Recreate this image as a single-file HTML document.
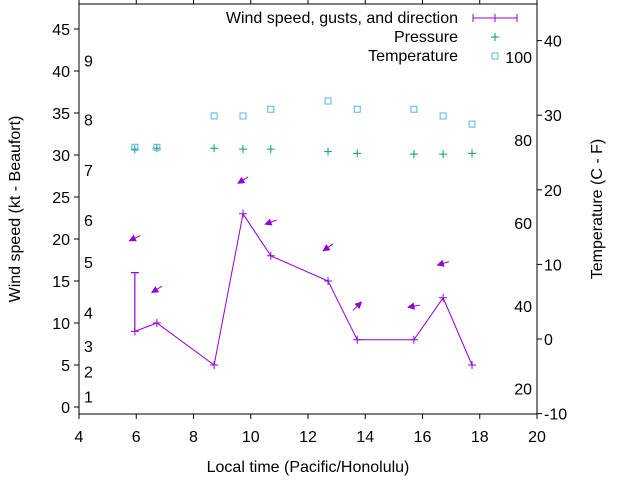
<!DOCTYPE html>
<html><head><meta charset="utf-8"><style>
body{margin:0;background:#fff}
svg text{font-family:"Liberation Sans",Arial,sans-serif;font-size:16px;fill:#000}
</style></head><body>
<svg id="chart" width="640" height="480" viewBox="0 0 640 480" xmlns="http://www.w3.org/2000/svg"></svg>
<script>
const times=[5.95,6.72,8.72,9.73,10.7,12.7,13.72,15.7,16.72,17.73];
const windKt=[9,10,5,23,18,15,8,8,13,5];
const gustKt=[16,null,null,null,null,null,null,null,null,null];
const pressure=[30.7,30.8,30.8,30.7,30.7,30.4,30.2,30.1,30.1,30.2];
const tempC=[25.7,25.7,29.9,29.9,30.8,31.9,30.8,30.8,29.9,28.8];
const arrowTimes=[5.95,6.72,9.73,10.7,12.7,13.72,15.7,16.72];
const arrowY=[20.1,14.0,27.0,22.0,19.0,12.0,12.0,17.1];
const arrowAngle=[206,212,211,200,215,45,190,197];
const xTicks=[4,6,8,10,12,14,16,18,20];
const yTicks=[0,5,10,15,20,25,30,35,40,45];
const y2Ticks=[-10,0,10,20,30,40];
const beaufortKt=[1,4,7,11,17,22,28,34,41];
const beaufortLabels=["1","2","3","4","5","6","7","8","9"];
const fahrenheit=[20,40,60,80,100];

const L=79,R=537,T=4,B=414;
const X=v=>L+(v-4)*(R-L)/16;
const Y=v=>407-v*8.4;
const Y2=v=>339-v*7.46;
const svg=document.getElementById('chart');
const NS='http://www.w3.org/2000/svg';
function mk(tag,attrs,parent){const e=document.createElementNS(NS,tag);for(const k in attrs)e.setAttribute(k,attrs[k]);(parent||svg).appendChild(e);return e;}
function txt(x,y,s,anchor){const t=mk('text',{x:x,y:y,'text-anchor':anchor||'middle'});t.textContent=s;return t;}

const frame=mk('rect',{x:L,y:T,width:R-L,height:B-T,fill:'none',stroke:'#000','stroke-width':1});


xTicks.forEach(v=>{
  mk('line',{x1:X(v),x2:X(v),y1:B,y2:B+5,stroke:'#000'});
  mk('line',{x1:X(v),x2:X(v),y1:T,y2:T-5,stroke:'#000'});
  const t=txt(X(v),442,String(v));
  
});
yTicks.forEach(v=>{
  mk('line',{x1:L-5,x2:L,y1:Y(v),y2:Y(v),stroke:'#000'});
  const t=txt(70,Y(v)+6,String(v),'end');
  
});
y2Ticks.forEach(v=>{
  mk('line',{x1:R,x2:R+5,y1:Y2(v),y2:Y2(v),stroke:'#000'});
  const t=txt(544,Y2(v)+6,String(v),'start');
  
});
beaufortKt.forEach((v,i)=>{
  const t=txt(84,Y(v)+4,beaufortLabels[i],'start');
  
});
fahrenheit.forEach(f=>{
  const t=txt(532,Y2((f-32)*5/9)+6,String(f),'end');
  
});

let tt=txt(308,472,'Local time (Pacific/Honolulu)');

tt=txt(0,0,'Wind speed (kt - Beaufort)');tt.setAttribute('transform','translate(20,209) rotate(-90)');

tt=txt(0,0,'Temperature (C - F)');tt.setAttribute('transform','translate(602,209) rotate(-90)');


const P='#9400d3',G='#009e73',B2='#56b4e9';
// wind line
const wl=mk('polyline',{points:times.map((t,i)=>X(t)+','+Y(windKt[i])).join(' '),fill:'none',stroke:P,'stroke-width':1});

times.forEach((t,i)=>{
  const x=X(t),y=Y(windKt[i]);
  const g=mk('path',{d:`M${x-4},${y}H${x+4}M${x},${y-4}V${y+4}`,stroke:P,'stroke-width':1});
  
  if(gustKt[i]!=null){
    const gy=Y(gustKt[i]);
    const e=mk('path',{d:`M${x},${y}V${gy}M${x-4},${gy}H${x+4}`,stroke:P,'stroke-width':1.2});
    
  }
});
// arrows
arrowTimes.forEach((t,i)=>{
  const cx=X(t),cy=Y(arrowY[i]),a=arrowAngle[i]*Math.PI/180,len=12;
  const dx=Math.cos(a)*len/2,dy=-Math.sin(a)*len/2;
  const hx=cx+dx,hy=cy+dy,tx=cx-dx,ty=cy-dy;
  const ux=dx/(len/2),uy=dy/(len/2),px=-uy,py=ux;
  const g=mk('g',{});
  
  mk('line',{x1:tx,y1:ty,x2:hx,y2:hy,stroke:P,'stroke-width':1},g);
  mk('polygon',{points:`${hx},${hy} ${hx-ux*6+px*3},${hy-uy*6+py*3} ${hx-ux*6-px*3},${hy-uy*6-py*3}`,fill:P,stroke:P,'stroke-width':0.8},g);
});
// pressure
times.forEach((t,i)=>{
  const x=X(t),y=Y(pressure[i]);
  const p=mk('path',{d:`M${x-4},${y}H${x+4}M${x},${y-4}V${y+4}`,stroke:G,'stroke-width':1});
  
});
// temperature
times.forEach((t,i)=>{
  const x=X(t),y=Y2(tempC[i]);
  const r=mk('rect',{x:x-3,y:y-3,width:6,height:6,fill:'none',stroke:B2,'stroke-width':1});
  
});
// legend
const lg=mk('g',{});
let e=txt(458,23,'Wind speed, gusts, and direction','end');lg.appendChild(e);
e=txt(458,42,'Pressure','end');lg.appendChild(e);
e=txt(458,61,'Temperature','end');lg.appendChild(e);
mk('path',{d:'M473,18H517M473,14V22M517,14V22M495,14V22',stroke:P,'stroke-width':1},lg);
mk('path',{d:'M491,37H499M495,33V41',stroke:G,'stroke-width':1},lg);
mk('rect',{x:492,y:53,width:6,height:6,fill:'none',stroke:B2},lg);
</script>
</body></html>
